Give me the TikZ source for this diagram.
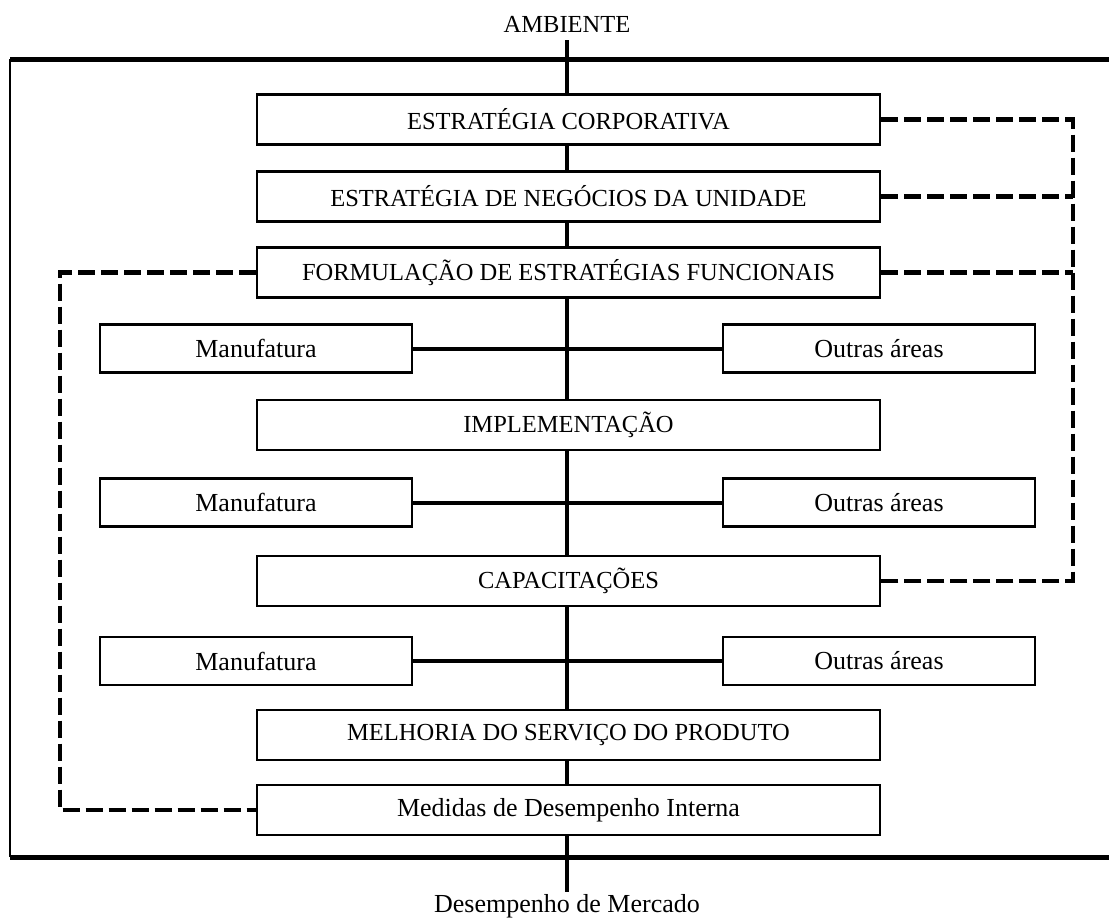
\documentclass[tikz,border=0pt]{standalone}
\usepackage{fontspec}
\setmainfont{Liberation Serif}
\begin{document}
\begin{tikzpicture}[x=1pt,y=-1pt,
  font=\fontsize{24.5}{28}\selectfont,
  lower/.style={font=\fontsize{26}{30}\selectfont},
  mainbox/.style={draw,line width=2.2pt,fill=white,minimum width=623pt,minimum height=50pt,inner sep=0pt},
  sidebox/.style={draw,line width=2.2pt,fill=white,minimum width=312pt,minimum height=48pt,inner sep=0pt,lower},
  spine/.style={line width=4pt},
  framebar/.style={line width=5pt},
  feedback/.style={line width=4.5pt,dash pattern=on 17pt off 6pt}]
\useasboundingbox (0,0) rectangle (1109,919);

% environment frame
\draw[framebar] (10,59) -- (1109,59);
\draw[framebar] (10,857) -- (1109,857);
\draw[line width=2pt] (10,59) -- (10,857);

% labels outside the frame
\node (amb) at (567,24) {AMBIENTE};
\node[lower] (mkt) at (567,906) {Desempenho de Mercado};
\coordinate (top) at (567,40);
\coordinate (bot) at (567,892);

% central chain
\draw[spine] (top) -- (bot);

% side connectors
\draw[spine] (256,348.5) -- (879,348.5);
\draw[spine] (256,502.5) -- (879,502.5);
\draw[spine] (256,661) -- (879,661);

% main boxes
\node[mainbox] (b1) at (568.5,119.5) {ESTRATÉGIA CORPORATIVA};
\node[mainbox] (b2) at (568.5,196.5) {ESTRATÉGIA DE NEGÓCIOS DA UNIDADE};
\node[mainbox] (b3) at (568.5,272.5) {FORMULAÇÃO DE ESTRATÉGIAS FUNCIONAIS};
\node[mainbox] (b4) at (568.5,425) {IMPLEMENTAÇÃO};
\node[mainbox] (b5) at (568.5,581) {CAPACITAÇÕES};
\node[mainbox] (b6) at (568.5,735) {MELHORIA DO SERVIÇO DO PRODUTO};
\node[mainbox,lower] (b7) at (568.5,810) {Medidas de Desempenho Interna};

% functional areas
\node[sidebox] (m1) at (256,348.5) {Manufatura};
\node[sidebox] (o1) at (879,348.5) {Outras áreas};
\node[sidebox] (m2) at (256,502.5) {Manufatura};
\node[sidebox] (o2) at (879,502.5) {Outras áreas};
\node[sidebox] (m3) at (256,661) {Manufatura};
\node[sidebox] (o3) at (879,661) {Outras áreas};

% feedback loops
\coordinate (rx) at (1073,0);
\coordinate (lx) at (60,0);
\draw[feedback] (b1.east) -- (b1.east -| rx) -- (b5.east -| rx) -- (b5.east);
\draw[feedback] (b2.east) -- (b2.east -| rx);
\draw[feedback] (b3.east) -- (b3.east -| rx);
\draw[feedback] (b3.west) -- (b3.west -| lx) -- (b7.west -| lx) -- (b7.west);
\end{tikzpicture}
\end{document}
